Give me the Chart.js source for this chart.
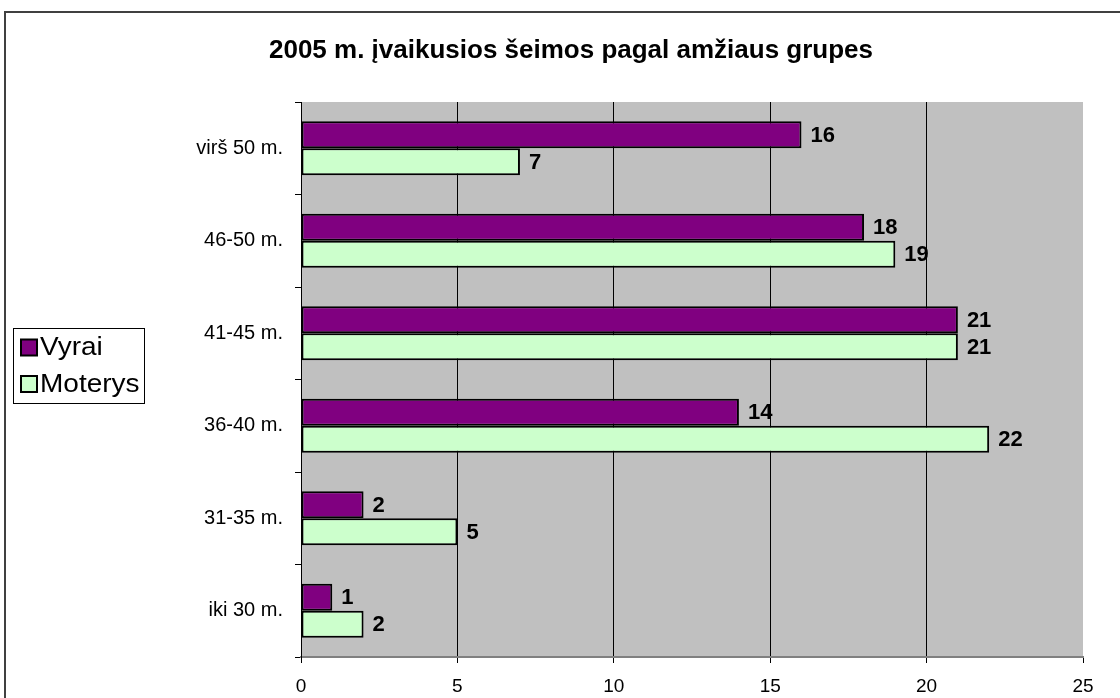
<!DOCTYPE html>
<html>
<head>
<meta charset="utf-8">
<script src="https://cdn.jsdelivr.net/npm/chart.js@4.4.1/dist/chart.umd.min.js"></script>
<style>
  html, body { margin: 0; padding: 0; background: #ffffff; }
  #wrap { position: relative; width: 1120px; height: 698px; }
</style>
</head>
<body>
<div id="wrap"><canvas id="c" width="1120" height="698"></canvas></div>
<script>
const chartTitle = "2005 m. įvaikusios šeimos pagal amžiaus grupes";
const categories = ["virš 50 m.", "46-50 m.", "41-45 m.", "36-40 m.", "31-35 m.", "iki 30 m."];
const seriesNames = ["Vyrai", "Moterys"];
const vyrai = [16, 18, 21, 14, 2, 1];
const moterys = [7, 19, 21, 22, 5, 2];
const xTicks = [0, 5, 10, 15, 20, 25];

const FONT = "'Liberation Sans', Arial, sans-serif";
const colors = ["#800080", "#CCFFCC"];

const decorPlugin = {
  id: 'decor',
  beforeDraw(chart) {
    const ctx = chart.ctx, a = chart.chartArea;
    ctx.save();
    ctx.fillStyle = '#ffffff';
    ctx.fillRect(0, 0, chart.width, chart.height);
    ctx.fillStyle = '#C0C0C0';
    ctx.fillRect(a.left, a.top, a.right - a.left, a.bottom - a.top);
    ctx.restore();
  },
  afterDraw(chart) {
    const ctx = chart.ctx;
    ctx.save();
    // outer border
    ctx.strokeStyle = '#404040';
    ctx.lineWidth = 2;
    ctx.strokeRect(5, 12, 1300, 900);
    // title
    ctx.fillStyle = '#000';
    ctx.font = 'bold 26px ' + FONT;
    ctx.textAlign = 'center';
    ctx.textBaseline = 'middle';
    ctx.fillText(chartTitle, 571, 51);
    // legend
    ctx.strokeStyle = '#000';
    ctx.lineWidth = 1;
    ctx.strokeRect(13.5, 328.5, 131, 75);
    ctx.font = '25px ' + FONT;
    ctx.textAlign = 'left';
    const ys = [347.5, 384];
    seriesNames.forEach((n, i) => {
      ctx.fillStyle = colors[i];
      ctx.fillRect(21, ys[i] - 8, 16, 16);
      ctx.lineWidth = 2;
      ctx.strokeRect(21, ys[i] - 8, 16, 16);
      ctx.fillStyle = '#000';
      ctx.save();
      ctx.translate(40, ys[i] + 1);
      ctx.scale(1.12, 1);
      ctx.fillText(n, 0, 0);
      ctx.restore();
    });
    ctx.restore();
  },
  afterDatasetsDraw(chart) {
    const ctx = chart.ctx;
    ctx.save();
    ctx.fillStyle = '#000';
    ctx.font = 'bold 22px ' + FONT;
    ctx.textAlign = 'left';
    ctx.textBaseline = 'middle';
    chart.data.datasets.forEach((ds, di) => {
      const meta = chart.getDatasetMeta(di);
      meta.data.forEach((bar, i) => {
        ctx.fillText(String(ds.data[i]), bar.x + 9, bar.y + 1);
      });
    });
    ctx.restore();
  }
};

new Chart(document.getElementById('c'), {
  type: 'bar',
  data: {
    labels: categories,
    datasets: [
      { label: seriesNames[0], data: vyrai, backgroundColor: colors[0], borderColor: '#000', borderWidth: 2, borderSkipped: false },
      { label: seriesNames[1], data: moterys, backgroundColor: colors[1], borderColor: '#000', borderWidth: 2, borderSkipped: false }
    ]
  },
  options: {
    indexAxis: 'y',
    responsive: false,
    animation: false,
    devicePixelRatio: 1,
    categoryPercentage: 0.585,
    barPercentage: 1.0,
    layout: { padding: { top: 102, left: 0, right: 37, bottom: 0 } },
    plugins: {
      legend: { display: false },
      title: { display: false },
      tooltip: { enabled: false }
    },
    scales: {
      x: {
        min: 0, max: 25,
        afterFit(s) { s.height = 41; },
        afterBuildTicks(s) { s.ticks = xTicks.map(v => ({ value: v })); },
        grid: {
          color: (c) => (c.tick && c.tick.value === 25) ? 'rgba(0,0,0,0)' : '#000',
          tickColor: '#000',
          lineWidth: 1,
          drawOnChartArea: true,
          tickLength: 6
        },
        border: { color: '#808080', width: 2 },
        ticks: { color: '#000', font: { family: FONT, size: 19 }, padding: 12, maxRotation: 0 }
      },
      y: {
        afterFit(s) { s.width = 301; },
        offset: true,
        grid: { offset: true, drawOnChartArea: false, color: '#000', tickLength: 6 },
        border: { color: '#000', width: 1 },
        ticks: { color: '#000', font: { family: FONT, size: 20 }, padding: 12 }
      }
    }
  },
  plugins: [decorPlugin]
});
</script>
</body>
</html>
